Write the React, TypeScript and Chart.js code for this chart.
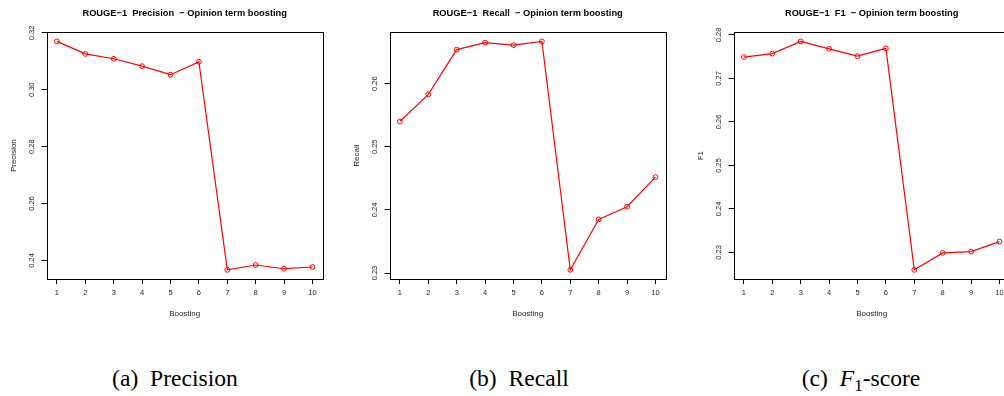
import React, { useEffect, useRef } from "react";
import { Chart, registerables } from "chart.js";

Chart.register(...registerables);

const boostingLevels = [1, 2, 3, 4, 5, 6, 7, 8, 9, 10];
const precisionValues = [0.317, 0.3126, 0.3109, 0.3083, 0.3053, 0.3098, 0.2367, 0.2384, 0.2371, 0.2377];
const recallValues = [0.254, 0.2583, 0.2654, 0.2665, 0.2661, 0.2667, 0.2305, 0.2385, 0.2405, 0.2452];
const f1Values = [0.2749, 0.2757, 0.2785, 0.2768, 0.2751, 0.2769, 0.226, 0.2299, 0.2302, 0.2325];
const precisionTicks = [0.24, 0.26, 0.28, 0.3, 0.32];
const recallTicks = [0.23, 0.24, 0.25, 0.26];
const f1Ticks = [0.23, 0.24, 0.25, 0.26, 0.27, 0.28];

const SANS = "'Liberation Sans', Arial, Helvetica, sans-serif";
const SERIF = "'Liberation Serif', 'Times New Roman', Times, serif";

const CANVAS_W = 335;
const CANVAS_H = 330;

const boxPlugin = {
  id: "plotBox",
  afterDraw(chart: any) {
    const { ctx, chartArea: a } = chart;
    ctx.save();
    ctx.strokeStyle = "#000";
    ctx.lineWidth = 1;
    const l = Math.round(a.left) + 0.5;
    const t = Math.round(a.top) + 0.5;
    const r = Math.round(a.right) + 0.5;
    const b = Math.round(a.bottom) + 0.5;
    ctx.strokeRect(l, t, r - l, b - t);
    ctx.restore();
  },
};

type PanelProps = {
  title: string;
  yLabel: string;
  values: number[];
  yTicks: number[];
  left: number;
};

function Panel({ title, yLabel, values, yTicks, left }: PanelProps) {
  const ref = useRef<HTMLCanvasElement>(null);
  useEffect(() => {
    const lo = Math.min(...values);
    const hi = Math.max(...values);
    const ypad = (hi - lo) * 0.04;
    const xlo = Math.min(...boostingLevels);
    const xhi = Math.max(...boostingLevels);
    const xpad = (xhi - xlo) * 0.04;
    const chart = new Chart(ref.current as HTMLCanvasElement, {
      type: "line",
      data: {
        datasets: [
          {
            data: boostingLevels.map((x, i) => ({ x, y: values[i] })),
            borderColor: "#ff0000",
            borderWidth: 1.2,
            pointRadius: 2.4,
            pointBorderWidth: 1,
            pointBorderColor: "#ff0000",
            pointBackgroundColor: "rgba(0,0,0,0)",
            fill: false,
            tension: 0,
          },
        ],
      },
      options: {
        responsive: false,
        animation: false,
        devicePixelRatio: 1,
        layout: { padding: { left: 0, right: 12.3, top: 0, bottom: 0 } },
        plugins: {
          legend: { display: false },
          tooltip: { enabled: false },
          title: {
            display: true,
            text: title,
            fullSize: false,
            color: "#000",
            font: { family: SANS, size: 9.3, weight: "bold", lineHeight: 1.2 },
            padding: { top: 7.7, bottom: 13.4 },
          },
        },
        scales: {
          x: {
            type: "linear",
            min: xlo - xpad,
            max: xhi + xpad,
            afterBuildTicks: (a: any) => {
              a.ticks = boostingLevels.map((v) => ({ value: v }));
            },
            afterFit: (a: any) => {
              a.height = CANVAS_H - 279;
            },
            grid: { display: true, drawOnChartArea: false, drawTicks: true, tickLength: 5, color: "#000", lineWidth: 1 },
            border: { display: false },
            ticks: { autoSkip: false, maxRotation: 0, minRotation: 0, padding: 4, color: "#222", font: { family: SANS, size: 7.5 } },
            title: { display: true, text: "Boosting", color: "#222", font: { family: SANS, size: 8, lineHeight: 1.2 }, padding: { top: 0, bottom: 11.9 } },
          },
          y: {
            type: "linear",
            min: lo - ypad,
            max: hi + ypad,
            afterBuildTicks: (a: any) => {
              a.ticks = yTicks.map((v) => ({ value: v }));
            },
            afterFit: (a: any) => {
              a.width = 46.7;
            },
            grid: { display: true, drawOnChartArea: false, drawTicks: true, tickLength: 5, color: "#000", lineWidth: 1 },
            border: { display: false },
            ticks: {
              autoSkip: false,
              minRotation: 90,
              maxRotation: 90,
              crossAlign: "center",
              padding: 2,
              color: "#222",
              font: { family: SANS, size: 7.5 },
              callback: (v: any) => Number(v).toFixed(2),
            },
            title: { display: true, text: yLabel, color: "#222", font: { family: SANS, size: 8, lineHeight: 1.2 }, padding: { top: 8.5, bottom: 0 } },
          },
        },
      } as any,
      plugins: [boxPlugin],
    });
    return () => chart.destroy();
  }, [title, yLabel, values, yTicks]);
  return (
    <canvas
      ref={ref}
      width={CANVAS_W}
      height={CANVAS_H}
      style={{ position: "absolute", left, top: 0, width: CANVAS_W, height: CANVAS_H }}
    />
  );
}

const captionStyle: React.CSSProperties = {
  position: "absolute",
  top: 366,
  width: 240,
  textAlign: "center",
  fontFamily: SERIF,
  fontSize: 23.6,
  lineHeight: "25px",
  whiteSpace: "pre",
  color: "#000",
};

export default function App() {
  return (
    <div
      style={{
        position: "fixed",
        left: 0,
        top: 0,
        width: 1004,
        height: 396,
        overflow: "hidden",
        background: "#fff",
      }}
    >
      <Panel title={"ROUGE\u22121  Precision  \u2212 Opinion term boosting"} yLabel="Precision" values={precisionValues} yTicks={precisionTicks} left={0} />
      <Panel title={"ROUGE\u22121  Recall  \u2212 Opinion term boosting"} yLabel="Recall" values={recallValues} yTicks={recallTicks} left={343.3} />
      <Panel title={"ROUGE\u22121  F1  \u2212 Opinion term boosting"} yLabel="F1" values={f1Values} yTicks={f1Ticks} left={686.6} />
      <div style={{ ...captionStyle, left: 175 - 120 }}>{"(a)\u2002Precision"}</div>
      <div style={{ ...captionStyle, left: 519 - 120 }}>{"(b)\u2002Recall"}</div>
      <div style={{ ...captionStyle, left: 861 - 120 }}>
        {"(c)\u2002"}
        <i>F</i>
        <span style={{ fontSize: "0.72em", verticalAlign: "-0.28em" }}>1</span>
        {"-score"}
      </div>
    </div>
  );
}
